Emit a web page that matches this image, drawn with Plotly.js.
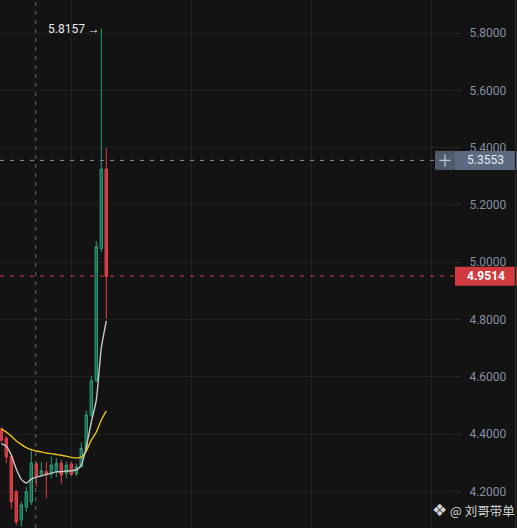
<!DOCTYPE html>
<html><head><meta charset="utf-8">
<script src="https://cdn.plot.ly/plotly-3.0.1.min.js"></script>
<style>html,body{margin:0;padding:0;background:#131313;overflow:hidden}#chart{width:517px;height:528px}</style>
</head><body><div id="chart"></div>
<script>
// candle index (one per bar)
const candleIndex = [0,1,2,3,4,5,6,7,8,9,10,11,12,13,14,15,16,17,18,19,20,21];
const openP  = [4.417,4.386,4.321,4.199,4.100,4.145,4.163,4.296,4.261,4.269,4.261,4.269,4.298,4.263,4.296,4.261,4.286,4.350,4.467,4.586,5.048,5.325];
const highP  = [4.425,4.393,4.327,4.205,4.164,4.216,4.345,4.303,4.303,4.303,4.321,4.316,4.310,4.304,4.303,4.298,4.371,4.482,4.603,5.074,5.8157,5.398];
const lowP   = [4.372,4.299,4.139,4.083,4.077,4.129,4.153,4.216,4.250,4.176,4.246,4.249,4.228,4.246,4.254,4.254,4.282,4.345,4.460,4.582,5.035,4.804];
const closeP = [4.379,4.320,4.164,4.094,4.153,4.199,4.299,4.254,4.272,4.261,4.292,4.298,4.257,4.292,4.259,4.286,4.350,4.467,4.586,5.054,5.325,4.9514];
const maFast = [4.367,4.358,4.327,4.278,4.242,4.229,4.243,4.250,4.254,4.259,4.264,4.268,4.269,4.271,4.272,4.275,4.292,4.355,4.442,4.519,4.700,4.795];
const maSlow = [4.418,4.407,4.393,4.376,4.364,4.353,4.346,4.341,4.338,4.334,4.332,4.329,4.326,4.323,4.319,4.317,4.320,4.341,4.379,4.407,4.449,4.481];
const highLabel = 5.8157;
const crossPrice = 5.3553;
const lastPrice = 4.9514;
const crossIndex = 6.88;
const watermark = "@ 刘哥带单";

const traces = [
  {type:'candlestick', x:candleIndex, open:openP, high:highP, low:lowP, close:closeP,
   increasing:{line:{color:'#2a9d77', width:1}, fillcolor:'#1c6650'},
   decreasing:{line:{color:'#e0434a', width:1}, fillcolor:'#c93a40'},
   whiskerwidth:0, hoverinfo:'skip'},
  {type:'scatter', mode:'lines', x:candleIndex, y:maSlow, line:{color:'#e6c21e', width:1.4, shape:'spline', smoothing:0.6}, hoverinfo:'skip'},
  {type:'scatter', mode:'lines', x:candleIndex, y:maFast, line:{color:'#c8c8c8', width:1.4, shape:'spline', smoothing:0.6}, hoverinfo:'skip'}
];

const W = 455; // plot width in px
const px = v => v / W;
const hb = 9.5 / 286.5;

const layout = {
  width:517, height:528,
  margin:{l:0, r:62, t:0, b:0},
  paper_bgcolor:'#131313', plot_bgcolor:'#131313',
  showlegend:false, hovermode:false, dragmode:false,
  font:{family:'Roboto, sans-serif'},
  xaxis:{range:[-0.26,90.74], showgrid:true, gridcolor:'#212121', gridwidth:1, tick0:14, dtick:24,
         showticklabels:false, ticks:'', zeroline:false, showline:false, rangeslider:{visible:false}, fixedrange:true},
  yaxis:{side:'right', range:[4.0723,5.9152], tick0:4.2, dtick:0.2, tickformat:'.4f',
         showgrid:true, gridcolor:'#212121', gridwidth:1, zeroline:false, showline:false,
         ticks:'outside', ticklen:5, tickcolor:'#2a2a2a', ticklabelstandoff:6,
         tickfont:{color:'#8590a2', size:12, family:'Roboto, sans-serif'}, fixedrange:true},
  shapes:[
    {type:'line', xref:'x', yref:'paper', x0:crossIndex, x1:crossIndex, y0:0, y1:1, line:{color:'#6a6a6a', width:1, dash:'4px,5px'}},
    {type:'line', xref:'paper', yref:'y', x0:0, x1:px(435), y0:crossPrice, y1:crossPrice, line:{color:'#8c9099', width:1, dash:'4px,6px'}},
    {type:'line', xref:'paper', yref:'y', x0:0, x1:1, y0:lastPrice, y1:lastPrice, line:{color:'#e0393e', width:1, dash:'4px,6px'}},
    {type:'rect', xref:'paper', yref:'y', x0:px(435), x1:1, y0:crossPrice-hb, y1:crossPrice+hb, fillcolor:'#4e5b6d', line:{width:0}},
    {type:'line', xref:'paper', yref:'y', x0:px(439.5), x1:px(450.5), y0:crossPrice, y1:crossPrice, line:{color:'#c3c9d2', width:1.3}},
    {type:'line', xref:'paper', yref:'y', x0:px(445), x1:px(445), y0:crossPrice-6/286.5, y1:crossPrice+6/286.5, line:{color:'#c3c9d2', width:1.3}},
    {type:'rect', xref:'paper', yref:'y', x0:1, x1:px(517), y0:crossPrice-hb, y1:crossPrice+hb, fillcolor:'#5b6a80', line:{width:0}},
    {type:'rect', xref:'paper', yref:'y', x0:1, x1:px(517), y0:lastPrice-hb, y1:lastPrice+hb, fillcolor:'#d13b3f', line:{width:0}},
    {type:'line', xref:'paper', yref:'paper', x0:px(515.5), x1:px(515.5), y0:0, y1:1, line:{color:'#2a2a2a', width:1.5}}
  ],
  annotations:[
    {xref:'x', yref:'y', x:20, y:highLabel, text:highLabel.toFixed(4)+' →', showarrow:false, xanchor:'right', yanchor:'middle', xshift:1,
     font:{color:'#ececec', size:12, family:'Roboto, sans-serif'}},
    {xref:'paper', yref:'y', x:px(485.5), y:crossPrice, text:crossPrice.toFixed(4), showarrow:false, xanchor:'center', yanchor:'middle',
     font:{color:'#e3e8ee', size:12, family:'Roboto, sans-serif'}},
    {xref:'paper', yref:'y', x:px(485.5), y:lastPrice, text:lastPrice.toFixed(4), showarrow:false, xanchor:'center', yanchor:'middle',
     font:{color:'#ffffff', size:12, family:'Roboto, sans-serif', weight:'bold'}},
    {xref:'paper', yref:'paper', x:px(439), y:1-510/528, text:'❖', showarrow:false, xanchor:'center', yanchor:'middle',
     font:{color:'#d6d6d6', size:17, family:'DejaVu Sans'}},
    {xref:'paper', yref:'paper', x:px(448), y:1-510/528, text:watermark, showarrow:false, xanchor:'left', yanchor:'middle',
     font:{color:'#d6d6d6', size:12.5, family:'Noto Sans CJK SC, sans-serif'}}
  ]
};

Plotly.newPlot('chart', traces, layout, {staticPlot:true, displayModeBar:false});
</script>
</body></html>
